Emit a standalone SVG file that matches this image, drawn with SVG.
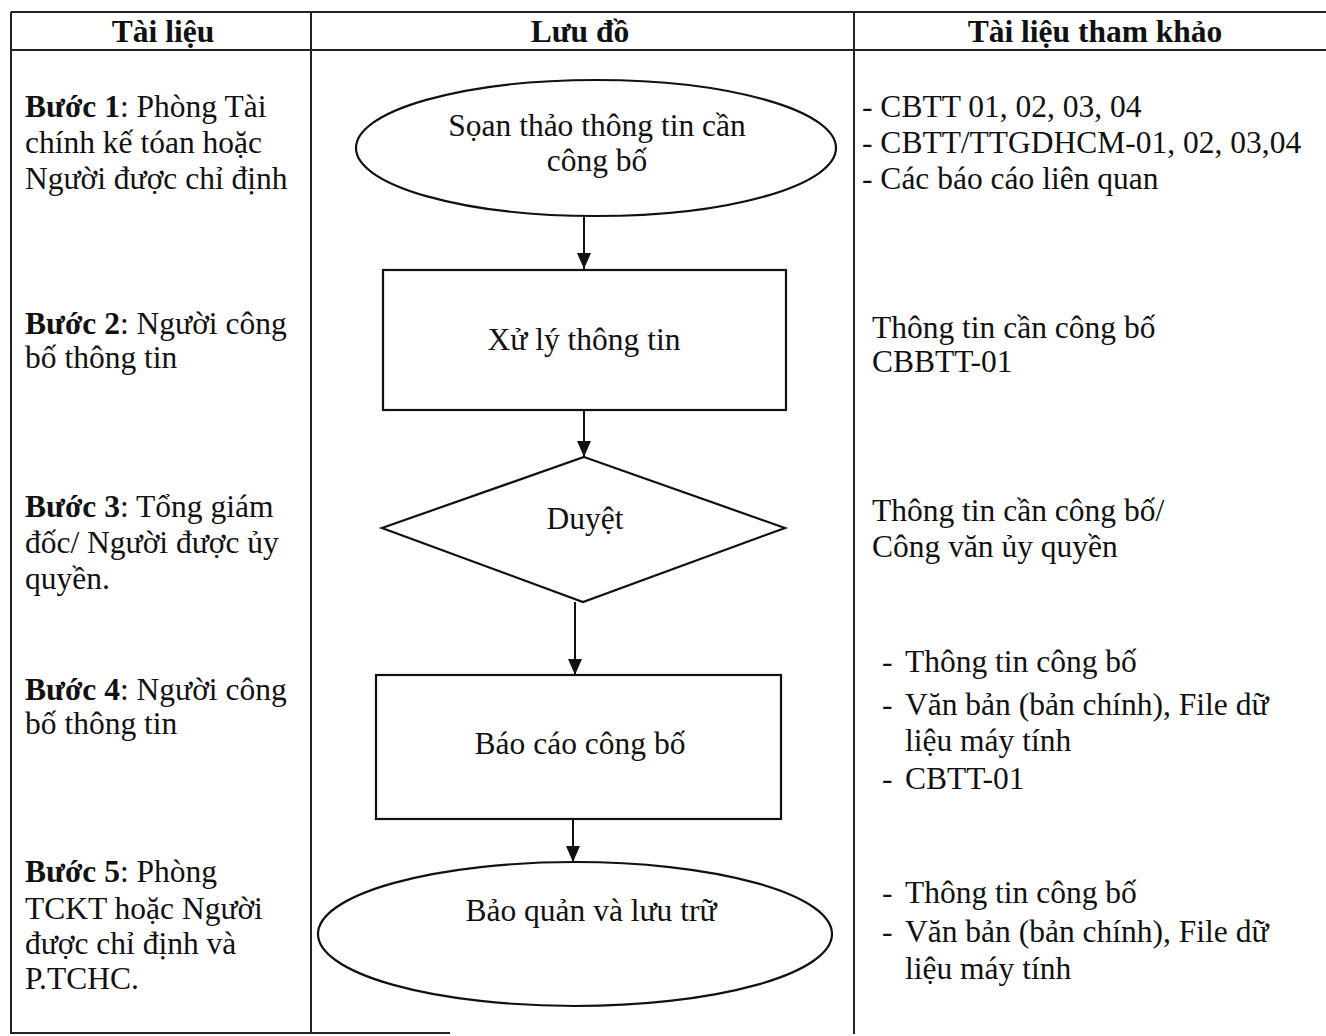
<svg xmlns="http://www.w3.org/2000/svg" width="1326" height="1036" viewBox="0 0 1326 1036">
<defs>
<style>
.t{font-family:"Liberation Serif","Times New Roman",serif;font-size:31.5px;fill:#111}
.h{font-weight:bold;text-anchor:middle}
.c{text-anchor:middle}
.b{font-weight:bold}
.grid{stroke:#222;stroke-width:2;fill:none}
.shape{stroke:#111;stroke-width:2.2;fill:#fff}
.conn{stroke:#111;stroke-width:2;fill:none}
</style>
<marker id="arr" viewBox="0 0 10 10" refX="10" refY="5" markerWidth="16" markerHeight="14" markerUnits="userSpaceOnUse" orient="auto" preserveAspectRatio="none">
<path d="M0,0 L10,5 L0,10 Z" fill="#111"/>
</marker>
</defs>
<rect width="1326" height="1036" fill="#fff"/>
<g id="table" class="grid">
<line x1="11" y1="12" x2="1326" y2="12"/>
<line x1="11" y1="50" x2="1326" y2="50"/>
<line x1="11" y1="12" x2="11" y2="1034"/>
<line x1="311" y1="12" x2="311" y2="1034"/>
<line x1="854" y1="12" x2="854" y2="1034"/>
<line x1="11" y1="1033" x2="450" y2="1033"/>
</g>
<g id="headers">
<text class="t h" x="163" y="42">Tài liệu</text>
<text class="t h" x="580" y="42">Lưu đồ</text>
<text class="t h" x="1095" y="42">Tài liệu tham khảo</text>
</g>
<g id="steps">
<text class="t" x="25" y="117"><tspan class="b">Bước 1</tspan>: Phòng Tài</text>
<text class="t" x="25" y="153">chính kế tóan hoặc</text>
<text class="t" x="25" y="189">Người được chỉ định</text>
<text class="t" x="25" y="334"><tspan class="b">Bước 2</tspan>: Người công</text>
<text class="t" x="25" y="368">bố thông tin</text>
<text class="t" x="25" y="517"><tspan class="b">Bước 3</tspan>: Tổng giám</text>
<text class="t" x="25" y="553">đốc/ Người được ủy</text>
<text class="t" x="25" y="589">quyền.</text>
<text class="t" x="25" y="700"><tspan class="b">Bước 4</tspan>: Người công</text>
<text class="t" x="25" y="734">bố thông tin</text>
<text class="t" x="25" y="882"><tspan class="b">Bước 5</tspan>: Phòng</text>
<text class="t" x="25" y="919">TCKT hoặc Người</text>
<text class="t" x="25" y="954">được chỉ định và</text>
<text class="t" x="25" y="989">P.TCHC.</text>
</g>
<g id="connectors">
<line class="conn" x1="584" y1="216" x2="584" y2="269" marker-end="url(#arr)"/>
<line class="conn" x1="584" y1="410" x2="584" y2="457" marker-end="url(#arr)"/>
<line class="conn" x1="575" y1="602" x2="575" y2="675" marker-end="url(#arr)"/>
<line class="conn" x1="573" y1="819" x2="573" y2="862" marker-end="url(#arr)"/>
</g>
<g id="node1">
<ellipse class="shape" cx="596" cy="148" rx="240" ry="68"/>
<text class="t c" x="597" y="136">Sọan thảo thông tin cần</text>
<text class="t c" x="597" y="171">công bố</text>
</g>
<g id="node2">
<rect class="shape" x="383" y="270" width="403" height="140"/>
<text class="t c" x="584" y="350">Xử lý thông tin</text>
</g>
<g id="node3">
<polygon class="shape" points="584,457 785,528 583,602 382,528"/>
<text class="t c" x="585" y="529">Duyệt</text>
</g>
<g id="node4">
<rect class="shape" x="376" y="675" width="405" height="144"/>
<text class="t c" x="580" y="754">Báo cáo công bố</text>
</g>
<g id="node5">
<ellipse class="shape" cx="575" cy="934" rx="257" ry="72"/>
<text class="t c" x="591" y="921">Bảo quản và lưu trữ</text>
</g>
<g id="refs">
<text class="t" x="862" y="117">- CBTT 01, 02, 03, 04</text>
<text class="t" x="862" y="153">- CBTT/TTGDHCM-01, 02, 03,04</text>
<text class="t" x="862" y="189">- Các báo cáo liên quan</text>
<text class="t" x="872" y="338">Thông tin cần công bố</text>
<text class="t" x="872" y="372">CBBTT-01</text>
<text class="t" x="872" y="521">Thông tin cần công bố/</text>
<text class="t" x="872" y="557">Công văn ủy quyền</text>
<text class="t" x="882" y="672">-</text><text class="t" x="905" y="672">Thông tin công bố</text>
<text class="t" x="882" y="715">-</text><text class="t" x="905" y="715">Văn bản (bản chính), File dữ</text>
<text class="t" x="905" y="751">liệu máy tính</text>
<text class="t" x="882" y="789">-</text><text class="t" x="905" y="789">CBTT-01</text>
<text class="t" x="882" y="903">-</text><text class="t" x="905" y="903">Thông tin công bố</text>
<text class="t" x="882" y="942">-</text><text class="t" x="905" y="942">Văn bản (bản chính), File dữ</text>
<text class="t" x="905" y="979">liệu máy tính</text>
</g>
</svg>
